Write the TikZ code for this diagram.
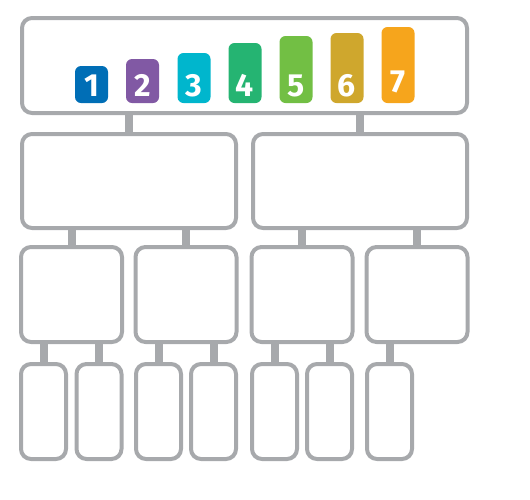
\documentclass[tikz,border=0pt]{standalone}
\usepackage{fontspec}
\setsansfont{Fira Sans}
\usepackage{tikz}

\definecolor{boxgray}{HTML}{A7A9AC}
\definecolor{c1}{HTML}{006EB6}
\definecolor{c2}{HTML}{8159A4}
\definecolor{c3}{HTML}{00B6CD}
\definecolor{c4}{HTML}{25B472}
\definecolor{c5}{HTML}{72BF44}
\definecolor{c6}{HTML}{CFA72D}
\definecolor{c7}{HTML}{F6A51C}

\begin{document}
\begin{tikzpicture}[x=0.5pt, y=-0.5pt,
    every node/.style={rectangle, inner sep=0pt},
    box/.style={draw=boxgray, line width=2pt, rounded corners=5pt},
    bar/.style={fill=#1, rounded corners=3pt, minimum width=16.5pt},
    digit/.style={anchor=base, yshift=3.5pt, text=white, font=\sffamily\bfseries\fontsize{16}{16}\selectfont},
    link/.style={draw=boxgray, line width=4pt}]
      \useasboundingbox (0, 0) rectangle (530, 499);

      \node[box, minimum width=222.5pt, minimum height=47.5pt] (top) at (244.5, 65.5) {};
      \node[bar=c1, minimum height=18.5pt, label={[digit]south:1}] (n1) at (91.5, 84.5) {};
      \node[bar=c2, minimum height=22pt, label={[digit]south:2}] (n2) at (142.5, 81) {};
      \node[bar=c3, minimum height=25pt, label={[digit]south:3}] (n3) at (194, 78) {};
      \node[bar=c4, minimum height=30pt, label={[digit]south:4}] (n4) at (245, 73) {};
      \node[bar=c5, minimum height=33.5pt, label={[digit]south:5}] (n5) at (296, 69.5) {};
      \node[bar=c6, minimum height=35pt, label={[digit]south:6}] (n6) at (347, 68) {};
      \node[bar=c7, minimum height=38pt, label={[digit, yshift=2pt]south:7}] (n7) at (398, 65) {};

      \node[box, minimum width=107pt, minimum height=47pt] (l) at (129, 181) {};
      \node[box, minimum width=107pt, minimum height=47pt] (r) at (360, 181) {};

      \node[box, minimum width=50.5pt, minimum height=47.5pt] (la) at (71.5, 294.5) {};
      \node[box, minimum width=50.5pt, minimum height=47.5pt] (lb) at (186, 294.5) {};
      \node[box, minimum width=50.5pt, minimum height=47.5pt] (ra) at (302, 294.5) {};
      \node[box, minimum width=50.5pt, minimum height=47.5pt] (rb) at (417, 294.5) {};

      \node[box, minimum width=22.5pt, minimum height=47.5pt] (la1) at (43.5, 411.5) {};
      \node[box, minimum width=22.5pt, minimum height=47.5pt] (la2) at (99, 411.5) {};
      \node[box, minimum width=22.5pt, minimum height=47.5pt] (lb1) at (158.5, 411.5) {};
      \node[box, minimum width=22.5pt, minimum height=47.5pt] (lb2) at (213.5, 411.5) {};
      \node[box, minimum width=22.5pt, minimum height=47.5pt] (ra1) at (274.5, 411.5) {};
      \node[box, minimum width=22.5pt, minimum height=47.5pt] (ra2) at (329.5, 411.5) {};
      \node[box, minimum width=22.5pt, minimum height=47.5pt] (rb1) at (389.5, 411.5) {};

      \draw[link] (l.north) -- (l.north |- top.south);
      \draw[link] (r.north) -- (r.north |- top.south);
      \draw[link] (la.north) -- (la.north |- l.south);
      \draw[link] (lb.north) -- (lb.north |- l.south);
      \draw[link] (ra.north) -- (ra.north |- r.south);
      \draw[link] (rb.north) -- (rb.north |- r.south);
      \draw[link] (la1.north) -- (la1.north |- la.south);
      \draw[link] (la2.north) -- (la2.north |- la.south);
      \draw[link] (lb1.north) -- (lb1.north |- lb.south);
      \draw[link] (lb2.north) -- (lb2.north |- lb.south);
      \draw[link] (ra1.north) -- (ra1.north |- ra.south);
      \draw[link] (ra2.north) -- (ra2.north |- ra.south);
      \draw[link] (rb1.north) -- (rb1.north |- rb.south);
    \end{tikzpicture}
\end{document}
